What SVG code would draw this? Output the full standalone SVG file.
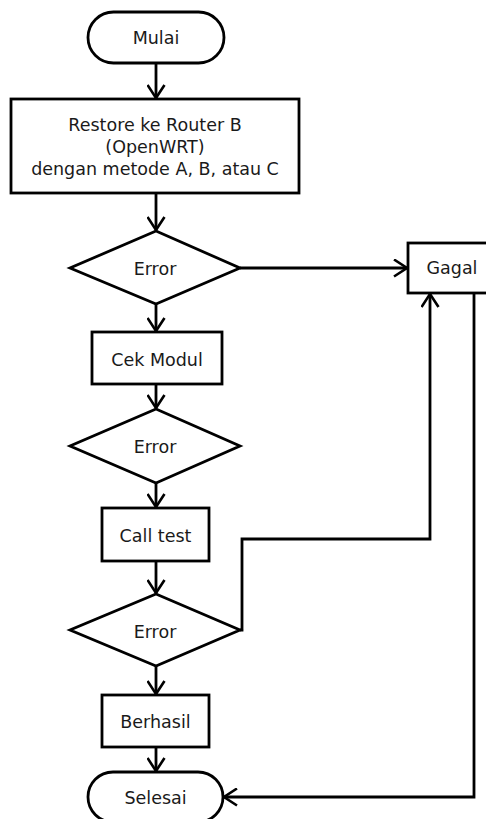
<svg xmlns="http://www.w3.org/2000/svg" width="486" height="819" viewBox="0 0 486 819">
<style>
.s{fill:#fff;stroke:#000;stroke-width:2.8}
.c{fill:none;stroke:#000;stroke-width:2.8}
text{font-family:"DejaVu Sans","Verdana",sans-serif;font-size:17.5px;fill:#1a1a1a;text-anchor:middle}
</style>
<defs>
<marker id="arr" viewBox="0 0 16 19" refX="14" refY="9.5" markerWidth="16" markerHeight="19" markerUnits="userSpaceOnUse" orient="auto">
<path d="M1,1 L14,9.5 L1,18" fill="none" stroke="#000" stroke-width="2.6"/>
</marker>
</defs>
<rect width="486" height="819" fill="#fff"/>
<g id="connectors">
<line class="c" x1="156" y1="63" x2="156" y2="98" marker-end="url(#arr)"/>
<line class="c" x1="156" y1="193" x2="156" y2="230" marker-end="url(#arr)"/>
<line class="c" x1="240" y1="268" x2="407" y2="268" marker-end="url(#arr)"/>
<line class="c" x1="156" y1="304" x2="156" y2="331" marker-end="url(#arr)"/>
<line class="c" x1="156" y1="384" x2="156" y2="408" marker-end="url(#arr)"/>
<line class="c" x1="156" y1="483" x2="156" y2="507" marker-end="url(#arr)"/>
<line class="c" x1="156" y1="561" x2="156" y2="593" marker-end="url(#arr)"/>
<polyline class="c" points="240,630 242,630 242,539 430,539 430,294" marker-end="url(#arr)"/>
<line class="c" x1="156" y1="666" x2="156" y2="694" marker-end="url(#arr)"/>
<line class="c" x1="156" y1="747" x2="156" y2="771" marker-end="url(#arr)"/>
<polyline class="c" points="474,293 474,797 224,797" marker-end="url(#arr)"/>
</g>
<g id="mulai">
<rect class="s" x="88" y="12" width="136" height="51" rx="25.5"/>
<text x="156" y="44">Mulai</text>
</g>
<g id="restore">
<rect class="s" x="11" y="99" width="288" height="94"/>
<text x="155" y="131">Restore ke Router B</text>
<text x="155" y="153">(OpenWRT)</text>
<text x="155" y="175">dengan metode A, B, atau C</text>
</g>
<g id="error1">
<polygon class="s" points="156,231 240,268 156,304 70,268"/>
<text x="155" y="275">Error</text>
</g>
<g id="gagal">
<rect class="s" x="408" y="243" width="90" height="50"/>
<text x="452" y="274">Gagal</text>
</g>
<g id="cekmodul">
<rect class="s" x="92" y="332" width="130" height="52"/>
<text x="157" y="366">Cek Modul</text>
</g>
<g id="error2">
<polygon class="s" points="156,409 240,446 156,483 70,446"/>
<text x="155" y="453">Error</text>
</g>
<g id="calltest">
<rect class="s" x="102" y="508" width="107" height="53"/>
<text x="155.5" y="542">Call test</text>
</g>
<g id="error3">
<polygon class="s" points="156,594 240,630 156,666 70,630"/>
<text x="155" y="638">Error</text>
</g>
<g id="berhasil">
<rect class="s" x="102" y="695" width="107" height="52"/>
<text x="155.5" y="728">Berhasil</text>
</g>
<g id="selesai">
<rect class="s" x="88" y="772" width="135" height="50" rx="25"/>
<text x="155.5" y="804">Selesai</text>
</g>
</svg>
